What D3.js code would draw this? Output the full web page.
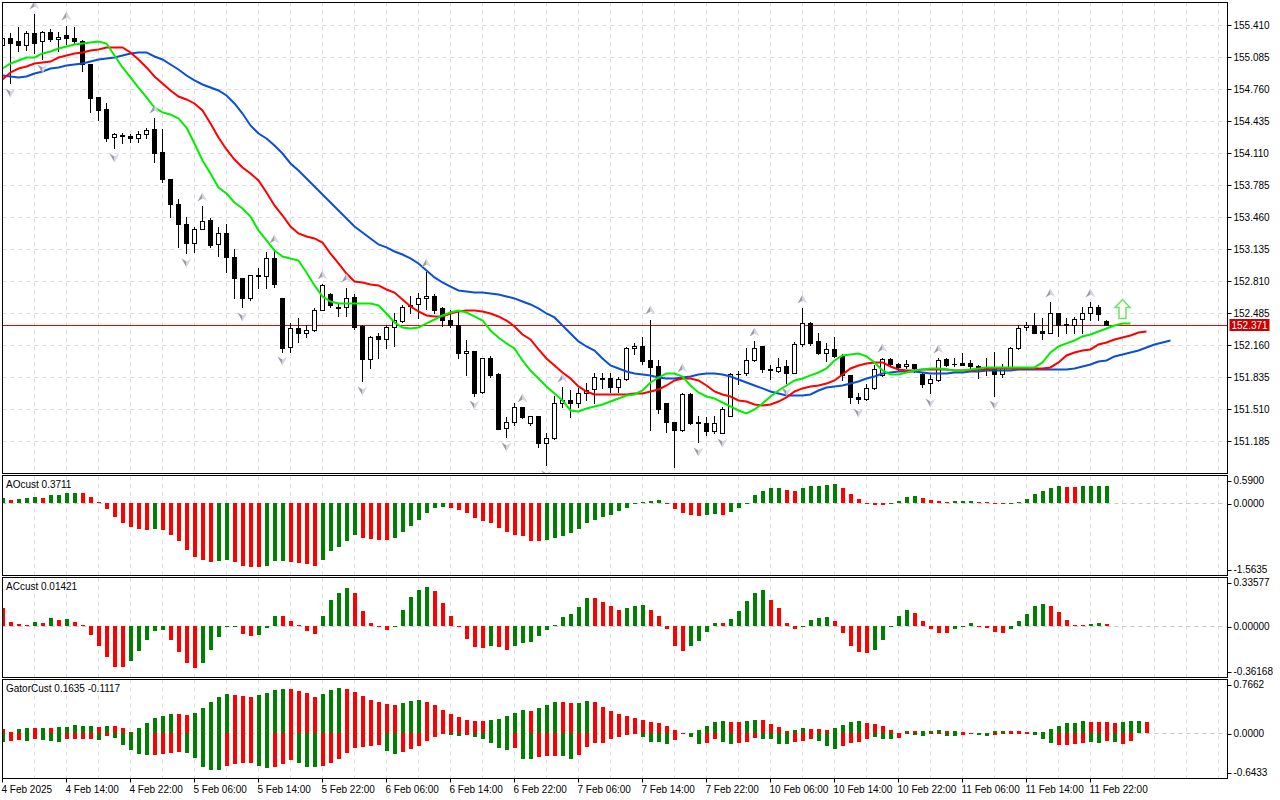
<!DOCTYPE html>
<html>
<head>
<meta charset="utf-8">
<script src="https://cdn.jsdelivr.net/npm/d3@7/dist/d3.min.js"></script>
<style>
  body { margin: 0; background: #fff; }
  svg { display: block; }
  text { font-family: "Liberation Sans", Arial, sans-serif; font-size: 10px; fill: #000; }
</style>
</head>
<body>
<svg id="chart" width="1280" height="800"></svg>
<script>
// H1 bars, 4 Feb 06:00 .. 11 Feb 23:00
const openPrices = [
  155.207,155.278,155.248,155.217,155.329,155.248,155.339,155.268,155.309,155.278,
  155.248,155.014,154.679,154.557,154.273,154.298,154.283,154.263,154.313,154.354,
  154.130,153.846,153.602,153.389,153.206,153.348,153.430,153.186,153.298,153.054,
  152.841,152.638,152.871,152.861,153.044,152.638,152.140,152.333,152.282,152.313,
  152.516,152.688,152.536,152.546,152.648,152.353,152.018,152.252,152.231,152.343,
  152.404,152.562,152.577,152.638,152.658,152.536,152.424,152.373,152.079,152.109,
  151.683,152.038,151.866,151.327,151.378,151.531,151.368,151.439,151.165,151.216,
  151.571,151.602,151.581,151.673,151.714,151.826,151.826,151.734,151.815,152.130,
  152.150,152.008,151.947,151.581,151.378,151.297,151.663,151.378,151.368,151.287,
  151.267,151.449,151.866,151.876,152.008,152.150,151.920,151.896,151.947,151.876,
  152.171,152.384,152.201,152.079,152.120,152.058,151.856,151.632,151.612,151.724,
  151.856,152.018,151.977,151.947,151.977,151.866,151.784,151.805,152.018,151.977,
  151.987,151.987,151.947,151.937,151.937,151.866,151.937,152.130,152.343,152.373,
  152.303,152.292,152.485,152.376,152.364,152.434,152.485,152.556,152.404
];
const highPrices = [
  155.298,155.329,155.390,155.359,155.522,155.359,155.370,155.339,155.410,155.390,
  155.258,155.014,154.679,154.618,154.323,154.323,154.313,154.334,154.374,154.466,
  154.354,153.846,153.643,153.460,153.359,153.572,153.450,153.359,153.389,153.145,
  152.841,152.881,152.952,153.105,153.145,152.638,152.384,152.435,152.364,152.536,
  152.780,152.698,152.577,152.749,152.688,152.364,152.252,152.282,152.364,152.485,
  152.567,152.658,152.698,152.902,152.678,152.546,152.516,152.516,152.211,152.109,
  152.038,152.058,151.876,151.429,151.571,151.531,151.449,151.439,151.267,151.652,
  151.734,151.704,151.724,151.784,151.876,151.876,151.876,151.836,152.140,152.181,
  152.242,152.424,152.008,151.581,151.378,151.673,151.673,151.439,151.429,151.439,
  151.531,151.876,151.906,152.130,152.201,152.150,151.967,152.038,152.008,152.191,
  152.536,152.394,152.292,152.181,152.242,152.069,151.856,151.673,151.774,151.957,
  152.038,152.038,151.987,152.008,151.977,151.886,151.856,152.028,152.038,152.038,
  152.079,152.008,151.967,152.038,152.089,151.977,152.140,152.373,152.394,152.495,
  152.435,152.597,152.495,152.435,152.446,152.546,152.597,152.567,152.424
];
const lowPrices = [
  155.187,154.821,155.146,155.166,155.126,155.065,155.248,155.146,155.227,155.227,
  154.943,154.527,154.455,154.242,154.161,154.212,154.222,154.222,154.263,154.019,
  153.816,153.460,153.156,153.095,153.105,153.348,153.156,153.064,152.902,152.638,
  152.546,152.627,152.739,152.749,152.759,152.099,152.099,152.191,152.242,152.303,
  152.516,152.556,152.455,152.455,152.323,151.795,151.927,152.038,152.130,152.150,
  152.394,152.485,152.435,152.526,152.495,152.353,152.343,152.038,151.856,151.652,
  151.673,151.836,151.307,151.226,151.348,151.419,151.348,151.134,150.942,151.206,
  151.531,151.429,151.531,151.602,151.581,151.724,151.683,151.683,151.805,152.069,
  151.977,151.297,151.470,151.277,150.921,151.287,151.358,151.175,151.256,151.267,
  151.267,151.439,151.774,151.856,151.998,151.886,151.815,151.886,151.784,151.876,
  152.160,152.170,152.069,151.998,152.048,151.805,151.571,151.571,151.602,151.714,
  151.846,151.967,151.896,151.927,151.886,151.734,151.673,151.795,151.947,151.947,
  151.957,151.906,151.826,151.856,151.652,151.836,151.927,152.120,152.313,152.287,
  152.231,152.282,152.252,152.282,152.282,152.282,152.424,152.424,152.366
];
const closePrices = [
  155.278,155.237,155.217,155.329,155.237,155.339,155.268,155.298,155.278,155.248,
  155.024,154.669,154.547,154.263,154.303,154.288,154.263,154.313,154.344,154.120,
  153.846,153.602,153.389,153.206,153.348,153.420,153.176,153.298,153.054,152.841,
  152.638,152.871,152.861,153.044,152.780,152.130,152.333,152.292,152.313,152.516,
  152.770,152.567,152.556,152.638,152.343,152.018,152.242,152.231,152.343,152.414,
  152.546,152.570,152.638,152.658,152.516,152.424,152.373,152.079,152.109,151.673,
  152.038,151.856,151.317,151.378,151.531,151.429,151.439,151.165,151.216,151.571,
  151.602,151.571,151.673,151.704,151.836,151.821,151.734,151.815,152.130,152.150,
  151.998,151.937,151.520,151.378,151.297,151.663,151.368,151.368,151.287,151.368,
  151.520,151.866,151.871,152.008,152.130,151.917,151.914,151.937,151.876,152.171,
  152.384,152.181,152.079,152.120,152.058,151.856,151.632,151.612,151.724,151.917,
  152.018,151.977,151.937,151.977,151.927,151.774,151.815,152.008,151.967,151.972,
  151.967,151.947,151.927,151.932,151.866,151.937,152.130,152.333,152.373,152.292,
  152.282,152.495,152.364,152.370,152.434,152.485,152.556,152.475,152.371
];

// Alligator lines, already shifted forward (lips +3, teeth +5, jaw +8 bars)
const lips = [
  154.973,155.024,155.055,155.085,155.085,155.126,155.146,155.177,155.197,155.217,
  155.227,155.237,155.248,155.227,155.105,154.984,154.882,154.780,154.679,154.577,
  154.527,154.506,154.466,154.374,154.212,154.039,153.907,153.765,153.704,153.613,
  153.552,153.470,153.328,153.227,153.125,153.064,153.044,153.023,152.902,152.770,
  152.658,152.607,152.587,152.587,152.587,152.587,152.587,152.566,152.485,152.394,
  152.343,152.333,152.343,152.384,152.424,152.465,152.495,152.516,152.495,152.455,
  152.414,152.313,152.241,152.181,152.130,152.008,151.906,151.825,151.744,151.673,
  151.602,151.500,151.490,151.520,151.541,151.561,151.591,151.622,151.652,151.663,
  151.703,151.784,151.835,151.876,151.876,151.845,151.754,151.683,151.642,151.622,
  151.581,151.541,151.500,151.470,151.510,151.571,151.642,151.703,151.754,151.805,
  151.825,151.856,151.886,151.927,152.008,152.059,152.069,152.079,152.049,151.988,
  151.906,151.866,151.866,151.886,151.906,151.916,151.927,151.927,151.916,151.906,
  151.906,151.916,151.927,151.937,151.937,151.937,151.937,151.937,151.937,151.937,
  151.988,152.089,152.150,152.181,152.211,152.252,152.272,152.302,152.333,152.363,
  152.384,152.384
];
const teeth = [
  154.862,154.933,154.973,154.994,155.024,155.034,155.044,155.085,155.105,155.126,
  155.136,155.156,155.166,155.187,155.187,155.187,155.136,155.065,154.984,154.892,
  154.821,154.750,154.689,154.659,154.618,154.547,154.415,154.273,154.151,154.049,
  153.968,153.907,153.836,153.714,153.582,153.480,153.369,153.298,153.267,153.247,
  153.206,153.094,152.993,152.891,152.810,152.800,152.780,152.770,152.729,152.698,
  152.627,152.556,152.506,152.465,152.455,152.455,152.485,152.506,152.516,152.516,
  152.506,152.485,152.455,152.414,152.353,152.272,152.221,152.120,152.028,151.957,
  151.886,151.825,151.744,151.693,151.663,151.663,151.663,151.663,151.663,151.673,
  151.673,151.693,151.713,151.754,151.805,151.825,151.825,151.805,151.754,151.693,
  151.663,151.642,151.602,151.591,151.561,151.551,151.561,151.591,151.632,151.693,
  151.724,151.744,151.754,151.774,151.805,151.866,151.927,151.957,151.977,151.988,
  151.988,151.947,151.916,151.906,151.906,151.916,151.916,151.916,151.916,151.906,
  151.906,151.906,151.916,151.916,151.927,151.927,151.927,151.927,151.927,151.927,
  151.927,151.937,151.988,152.059,152.089,152.109,152.120,152.170,152.191,152.221,
  152.241,152.262,152.292,152.302
];
const jaw = [
  154.902,154.892,154.882,154.892,154.923,154.943,154.973,154.984,155.004,155.014,
  155.024,155.044,155.065,155.075,155.085,155.105,155.126,155.136,155.136,155.095,
  155.065,155.014,154.963,154.902,154.852,154.811,154.780,154.750,154.699,154.618,
  154.516,154.395,154.313,154.263,154.191,154.110,154.009,153.938,153.856,153.775,
  153.694,153.613,153.531,153.450,153.369,153.308,153.247,153.186,153.156,153.115,
  153.084,153.044,152.993,152.922,152.851,152.800,152.759,152.719,152.709,152.698,
  152.698,152.688,152.678,152.658,152.638,152.607,152.577,152.536,152.485,152.445,
  152.363,152.282,152.201,152.150,152.109,152.028,151.957,151.927,151.896,151.876,
  151.866,151.856,151.835,151.825,151.825,151.835,151.845,151.866,151.876,151.876,
  151.866,151.845,151.815,151.784,151.754,151.724,151.693,151.673,151.652,151.652,
  151.652,151.663,151.703,151.734,151.744,151.754,151.774,151.795,151.825,151.845,
  151.876,151.886,151.896,151.896,151.896,151.886,151.876,151.876,151.876,151.886,
  151.886,151.896,151.896,151.906,151.906,151.906,151.906,151.916,151.916,151.916,
  151.916,151.916,151.916,151.916,151.927,151.947,151.967,151.998,152.008,152.049,
  152.069,152.089,152.109,152.140,152.170,152.191,152.211
];

// fractals: [bar, anchor price]
const fractalUp = [
  [4,155.522],[8,155.410],[19,154.466],[25,153.572],[34,153.145],[40,152.780],
  [43,152.749],[53,152.902],[65,151.531],[70,151.734],[81,152.424],[85,151.835],
  [94,152.201],[100,152.536],[110,152.038],[117,152.028],[131,152.597],[136,152.597]
];
const fractalDown = [
  [1,154.821],[5,155.065],[14,154.161],[23,153.095],[30,152.546],[35,152.099],
  [45,151.795],[59,151.652],[63,151.226],[68,150.942],[84,150.921],[87,151.175],
  [90,151.267],[98,151.784],[107,151.571],[116,151.673],[124,151.652]
];
const signalArrow = {bar: 140, price: 152.434};
const lastPrice = 152.371;

const aoValues = [
  0.11,0.07,0.09,0.10,0.12,0.115,0.16,0.18,0.21,0.215,
  0.21,0.12,0.015,-0.14,-0.31,-0.44,-0.52,-0.57,-0.59,-0.57,
  -0.59,-0.69,-0.83,-1.01,-1.17,-1.24,-1.28,-1.26,-1.24,-1.28,
  -1.35,-1.37,-1.38,-1.35,-1.26,-1.25,-1.27,-1.30,-1.31,-1.35,
  -1.22,-1.04,-0.94,-0.81,-0.70,-0.76,-0.77,-0.79,-0.795,-0.76,
  -0.63,-0.49,-0.36,-0.22,-0.11,-0.093,-0.115,-0.143,-0.22,-0.33,
  -0.40,-0.44,-0.545,-0.63,-0.70,-0.717,-0.81,-0.815,-0.805,-0.76,
  -0.717,-0.65,-0.57,-0.44,-0.36,-0.31,-0.25,-0.18,-0.11,-0.02,
  0.03,0.036,0.07,-0.01,-0.13,-0.22,-0.27,-0.287,-0.26,-0.24,
  -0.25,-0.20,-0.11,0.005,0.16,0.265,0.32,0.33,0.287,0.265,
  0.315,0.36,0.373,0.394,0.40,0.315,0.194,0.093,0.005,-0.04,
  -0.045,-0.005,0.05,0.12,0.14,0.11,0.07,0.045,0.03,0.032,
  0.036,0.045,0.03,0.02,0.005,-0.02,-0.005,0.015,0.085,0.2,
  0.265,0.33,0.355,0.35,0.348,0.355,0.358,0.365,0.3711
];
const aoColors =
  'grgggrgggg' + 'rrrrrrrrrg' + 'rrrrrrrggr' + 'rrrgggrrrr' + 'gggggrrrrg' +
  'ggggggrrrr' + 'rrrrrrrrgg' + 'gggggggggg' + 'gggrrrrrgg' + 'rgggggggrr' +
  'gggggrrrrr' + 'rggggrrrrg' + 'ggrrrrgggg' + 'gggrrgggg';

const acValues = [
  0.12,0.028,0.008,0.006,0.023,0.016,0.051,0.042,0.044,0.028,
  0.005,-0.063,-0.14,-0.216,-0.286,-0.29,-0.244,-0.174,-0.098,-0.035,
  -0.028,-0.098,-0.181,-0.263,-0.298,-0.26,-0.167,-0.077,-0.004,-0.002,
  -0.056,-0.074,-0.063,-0.019,0.07,0.069,0.035,0.007,-0.035,-0.058,
  0.07,0.18,0.23,0.265,0.23,0.105,0.019,-0.007,-0.03,-0.005,
  0.112,0.20,0.25,0.272,0.244,0.158,0.07,-0.005,-0.093,-0.147,
  -0.158,-0.14,-0.151,-0.167,-0.144,-0.121,-0.116,-0.074,-0.033,0.007,
  0.058,0.081,0.128,0.195,0.193,0.167,0.14,0.112,0.121,0.14,
  0.141,0.109,0.07,-0.023,-0.144,-0.174,-0.144,-0.109,-0.047,0.021,
  0.02,0.049,0.105,0.174,0.23,0.251,0.181,0.121,0.02,-0.023,
  -0.003,0.042,0.051,0.058,0.035,-0.053,-0.14,-0.186,-0.193,-0.167,
  -0.098,-0.005,0.07,0.112,0.088,0.035,-0.026,-0.051,-0.053,-0.026,
  -0.005,0.019,-0.001,-0.016,-0.047,-0.053,-0.026,0.035,0.081,0.14,
  0.151,0.14,0.098,0.042,0.007,0.006,0.013,0.015,0.01421
];
const acColors =
  'rrrrgrgrgr' + 'rrrrrrgggg' + 'grrrrggggg' + 'rrgggrrrrr' + 'ggggrrrrrg' +
  'ggggrrrrrr' + 'rgrrgggggg' + 'ggggrrrrgg' + 'grrrrrgggg' + 'rgggggrrrr' +
  'ggggrrrrrg' + 'ggggrrrrrg' + 'ggrrrrgggg' + 'grrrrrggr';

const gatorUpper = [
  0.057,0.024,0.062,0.081,0.080,0.082,0.081,0.095,0.096,0.119,
  0.104,0.105,0.095,0.109,0.104,0.081,0.019,0.081,0.142,0.214,
  0.247,0.275,0.271,0.261,0.294,0.366,0.451,0.522,0.560,0.546,
  0.537,0.522,0.546,0.579,0.617,0.632,0.627,0.608,0.579,0.513,
  0.560,0.617,0.641,0.627,0.594,0.532,0.475,0.451,0.413,0.404,
  0.437,0.465,0.475,0.442,0.404,0.332,0.275,0.228,0.190,0.180,
  0.178,0.190,0.204,0.247,0.285,0.332,0.323,0.356,0.404,0.451,
  0.450,0.437,0.438,0.465,0.442,0.380,0.323,0.275,0.247,0.214,
  0.190,0.166,0.152,0.104,0.047,0.005,0.004,0.047,0.104,0.166,
  0.176,0.166,0.165,0.176,0.190,0.189,0.133,0.085,0.028,0.047,
  0.081,0.062,0.061,0.047,0.081,0.119,0.161,0.180,0.142,0.133,
  0.104,0.047,0.009,0.033,0.032,0.035,0.036,0.047,0.038,0.040,
  0.014,0.005,0.006,0.007,0.033,0.034,0.033,0.032,0.014,0.016,
  0.019,0.062,0.104,0.142,0.143,0.170,0.168,0.166,0.1635,0.152,
  0.160,0.176,0.178,0.160
];
const gatorUpperColors =
  'rrggrgrggg' + 'ggrgrrrggg' + 'ggrrgggggr' + 'rrggggrrrr' + 'gggrrrrrrr' +
  'gggrrrrrrr' + 'rgggggrggg' + 'rrggrrrrrr' + 'rrrrrrgggg' + 'grrggrrrrg' +
  'grrrggggrr' + 'rrrgrgggrg' + 'rrggggrrrg' + 'ggggggrrrr' + 'gggr';
const gatorLower = [
  -0.119,-0.104,-0.095,-0.104,-0.076,-0.095,-0.104,-0.119,-0.085,-0.084,
  -0.083,-0.076,-0.095,-0.033,-0.062,-0.166,-0.237,-0.294,-0.309,-0.308,
  -0.294,-0.275,-0.261,-0.275,-0.356,-0.475,-0.522,-0.523,-0.465,-0.432,
  -0.427,-0.426,-0.465,-0.499,-0.484,-0.437,-0.380,-0.427,-0.475,-0.484,
  -0.465,-0.418,-0.370,-0.275,-0.214,-0.199,-0.180,-0.166,-0.247,-0.294,
  -0.261,-0.223,-0.180,-0.104,-0.047,-0.014,-0.024,-0.038,-0.020,-0.047,
  -0.081,-0.133,-0.204,-0.237,-0.214,-0.361,-0.362,-0.342,-0.323,-0.322,
  -0.325,-0.361,-0.309,-0.190,-0.133,-0.132,-0.076,-0.047,-0.024,-0.005,
  -0.047,-0.119,-0.120,-0.152,-0.095,-0.014,-0.047,-0.152,-0.142,-0.085,
  -0.119,-0.152,-0.142,-0.119,-0.062,-0.085,-0.086,-0.152,-0.153,-0.119,
  -0.104,-0.085,-0.104,-0.180,-0.223,-0.180,-0.133,-0.119,-0.085,-0.047,
  -0.085,-0.086,-0.062,-0.009,-0.024,-0.033,-0.014,-0.005,-0.033,-0.034,
  -0.024,-0.014,-0.024,-0.033,-0.024,-0.009,-0.005,-0.004,-0.003,-0.024,
  -0.081,-0.133,-0.166,-0.166,-0.152,-0.142,-0.119,-0.133,-0.1117,-0.119,
  -0.152,-0.104
];
const gatorLowerColors =
  'grrgrgggrr' + 'rrgrgggggr' + 'rrrgggggrr' + 'rrggrrrggg' + 'rrrrrrrrgg' +
  'rrrrrrggrg' + 'ggggrggrrr' + 'ggrrrrrrrr' + 'ggggrrggrr' + 'ggrrrggggr' +
  'rrgggrrrrg' + 'ggrrggrrgg' + 'rrggrrrrrg' + 'ggrrrrggrg' + 'rr';

const priceTicks = [155.410,155.085,154.760,154.435,154.110,153.785,153.460,
  153.135,152.810,152.485,152.160,151.835,151.510,151.185];
const timeLabels = ['4 Feb 2025','4 Feb 14:00','4 Feb 22:00','5 Feb 06:00','5 Feb 14:00',
  '5 Feb 22:00','6 Feb 06:00','6 Feb 14:00','6 Feb 22:00','7 Feb 06:00','7 Feb 14:00',
  '7 Feb 22:00','10 Feb 06:00','10 Feb 14:00','10 Feb 22:00','11 Feb 06:00',
  '11 Feb 14:00','11 Feb 22:00'];
const timeLabelBars = d3.range(0, 137, 8);

// ---- layout ----
const left = 2.5, right = 1227.5;
const mainPanel = {top: 2.5, bottom: 473.5};
const aoPanel = {top: 475.5, bottom: 575.5, label: 'AOcust 0.3711', ticks: ['0.5900', '0.0000', '-1.5635']};
const acPanel = {top: 577.5, bottom: 677.5, label: 'ACcust 0.01421', ticks: ['0.33577', '0.00000', '-0.36168']};
const gatorPanel = {top: 679.5, bottom: 778.5, label: 'GatorCust 0.1635 -0.1117', ticks: ['0.7662', '0.0000', '-0.6433']};
const gridColor = '#dcdcdc';
const green = '#008000', red = '#ff0000';

const svg = d3.select('#chart');
const defs = svg.append('defs');

const x = d3.scaleLinear().domain([0, 1]).range([2.5, 10.5]);
const y = d3.scaleLinear().domain([151.185, 155.410]).range([441.5, 25.5]);
aoPanel.scale = d3.scaleLinear().domain([-1.5635, 0.59]).range([aoPanel.bottom, aoPanel.top]);
acPanel.scale = d3.scaleLinear().domain([-0.36168, 0.33577]).range([acPanel.bottom, acPanel.top]);
gatorPanel.scale = d3.scaleLinear().domain([-0.6433, 0.7662]).range([gatorPanel.bottom, gatorPanel.top]);

function addClip(id, p) {
  defs.append('clipPath').attr('id', id).append('rect')
    .attr('x', left).attr('y', p.top).attr('width', right - left).attr('height', p.bottom - p.top);
}

const gridBars = d3.range(4, 160, 4).filter(i => x(i) < right);
function verticalGrid(p) {
  svg.append('g').selectAll('line').data(gridBars).join('line')
    .attr('x1', d => x(d)).attr('x2', d => x(d))
    .attr('y1', p.top).attr('y2', p.bottom)
    .attr('stroke', gridColor).attr('stroke-dasharray', '4,4');
}

// ---- main price panel ----
addClip('clip-main', mainPanel);
verticalGrid(mainPanel);
svg.append('g').selectAll('line').data(priceTicks).join('line')
  .attr('x1', left).attr('x2', right)
  .attr('y1', d => y(d)).attr('y2', d => y(d))
  .attr('stroke', gridColor).attr('stroke-dasharray', '4,4');

const main = svg.append('g').attr('clip-path', 'url(#clip-main)');

const lastY = Math.round(y(lastPrice)) + 0.5;
main.append('line')
  .attr('x1', left).attr('x2', right).attr('y1', lastY).attr('y2', lastY)
  .attr('stroke', '#ff0000');

const candles = openPrices.map((o, i) => ({
  i, o, h: highPrices[i], l: lowPrices[i], c: closePrices[i]
}));

main.append('g').selectAll('line').data(candles).join('line')
  .attr('x1', d => x(d.i)).attr('x2', d => x(d.i))
  .attr('y1', d => Math.round(y(d.h)))
  .attr('y2', d => Math.round(y(d.l)) + 1)
  .attr('stroke', '#000');

const bodies = main.append('g');
candles.forEach(d => {
  const yo = Math.round(y(d.o)), yc = Math.round(y(d.c));
  const top = Math.min(yo, yc), bottom = Math.max(yo, yc);
  if (bottom - top < 1) {
    bodies.append('line')
      .attr('x1', x(d.i) - 2.5).attr('x2', x(d.i) + 2.5)
      .attr('y1', top + 0.5).attr('y2', top + 0.5)
      .attr('stroke', '#000');
  } else {
    bodies.append('rect')
      .attr('x', x(d.i) - 2).attr('width', 4)
      .attr('y', top + 0.5).attr('height', bottom - top)
      .attr('fill', d.c >= d.o ? '#fff' : '#000')
      .attr('stroke', '#000');
  }
});

const maLine = d3.line().x((d, i) => x(i)).y(d => y(d));
[[jaw, '#0a4fd6'], [teeth, '#ff0000'], [lips, '#00ee00']].forEach(([data, color]) => {
  main.append('path').datum(data)
    .attr('d', maLine)
    .attr('fill', 'none')
    .attr('stroke', color)
    .attr('stroke-width', 2);
});

// fractal arrows: two shaded halves
function fractal(g, cx, baseY, dir) {
  const tip = baseY - dir * 9, notch = baseY - dir * 3;
  g.append('path')
    .attr('d', `M${cx},${tip}L${cx - 5},${baseY}L${cx},${notch}Z`)
    .attr('fill', '#9c9ca4');
  g.append('path')
    .attr('d', `M${cx},${tip}L${cx},${notch}L${cx + 5},${baseY}Z`)
    .attr('fill', '#d4d8e2');
}
const fractals = main.append('g');
fractalUp.forEach(([bar, p]) => fractal(fractals, x(bar), y(p) - 5, 1));
fractalDown.forEach(([bar, p]) => fractal(fractals, x(bar), y(p) + 5, -1));

// buy signal arrow
{
  const cx = x(signalArrow.bar), by = y(signalArrow.price);
  const pts = [[cx - 3.5, by], [cx - 3.5, by - 11], [cx - 7.5, by - 11], [cx, by - 19],
    [cx + 7.5, by - 11], [cx + 3.5, by - 11], [cx + 3.5, by]];
  main.append('path')
    .attr('d', 'M' + pts.map(p => p.join(',')).join('L') + 'Z')
    .attr('fill', '#fbfff0')
    .attr('stroke', '#6fe06f')
    .attr('stroke-width', 1.5);
}

// price axis
svg.append('g')
  .attr('transform', `translate(${right},0)`)
  .call(d3.axisRight(y).tickValues(priceTicks).tickFormat(d3.format('.3f'))
    .tickSize(4).tickPadding(2).offset(0))
  .call(g => g.select('.domain').remove());

svg.append('rect')
  .attr('x', right + 2).attr('y', lastY - 6.5)
  .attr('width', 40).attr('height', 12)
  .attr('fill', '#cc0000');
svg.append('text')
  .attr('x', right + 4).attr('y', lastY + 3.5)
  .style('fill', '#fff')
  .text(d3.format('.3f')(lastPrice));

// ---- indicator panels ----
function histogram(g, scale, values, colors) {
  const y0 = Math.round(scale(0));
  g.selectAll(null).data(values).join('rect')
    .attr('x', (d, i) => Math.round(x(i) - 2))
    .attr('width', 4)
    .attr('y', d => d >= 0 ? Math.round(scale(d)) : y0)
    .attr('height', d => Math.max(1, Math.abs(Math.round(scale(d)) - y0)))
    .attr('fill', (d, i) => colors[i] === 'g' ? green : red);
}

function indicatorPanel(p, id, series) {
  addClip(id, p);
  verticalGrid(p);
  const y0 = Math.round(p.scale(0)) + 0.5;
  svg.append('line')
    .attr('x1', left).attr('x2', right).attr('y1', y0).attr('y2', y0)
    .attr('stroke', '#c8c8c8').attr('stroke-dasharray', '4,4');
  const g = svg.append('g').attr('clip-path', `url(#${id})`);
  series.forEach(([values, colors]) => histogram(g, p.scale, values, colors));
  svg.append('text').attr('x', 6).attr('y', p.top + 12.5).text(p.label);

  const labelY = [p.top + 5, y0, p.bottom - 6];
  const axis = svg.append('g');
  p.ticks.forEach((t, k) => {
    axis.append('line')
      .attr('x1', right).attr('x2', right + 4)
      .attr('y1', Math.round(labelY[k]) + 0.5).attr('y2', Math.round(labelY[k]) + 0.5)
      .attr('stroke', '#000');
    axis.append('text')
      .attr('x', right + 6).attr('y', labelY[k] + 3.5)
      .text(t);
  });
}

indicatorPanel(aoPanel, 'clip-ao', [[aoValues, aoColors]]);
indicatorPanel(acPanel, 'clip-ac', [[acValues, acColors]]);
indicatorPanel(gatorPanel, 'clip-gator', [[gatorUpper, gatorUpperColors], [gatorLower, gatorLowerColors]]);

// time axis
svg.append('g')
  .attr('transform', `translate(0,${gatorPanel.bottom})`)
  .call(d3.axisBottom(x).tickValues(timeLabelBars)
    .tickFormat((d, i) => timeLabels[i]).tickSize(4).tickPadding(3).offset(0))
  .call(g => g.select('.domain').remove())
  .call(g => g.selectAll('text').attr('text-anchor', 'start').attr('x', -1));

// panel frames
[mainPanel, aoPanel, acPanel, gatorPanel].forEach(p => {
  svg.append('rect')
    .attr('x', left).attr('y', p.top)
    .attr('width', right - left).attr('height', p.bottom - p.top)
    .attr('fill', 'none').attr('stroke', '#000');
});
</script>
</body>
</html>
